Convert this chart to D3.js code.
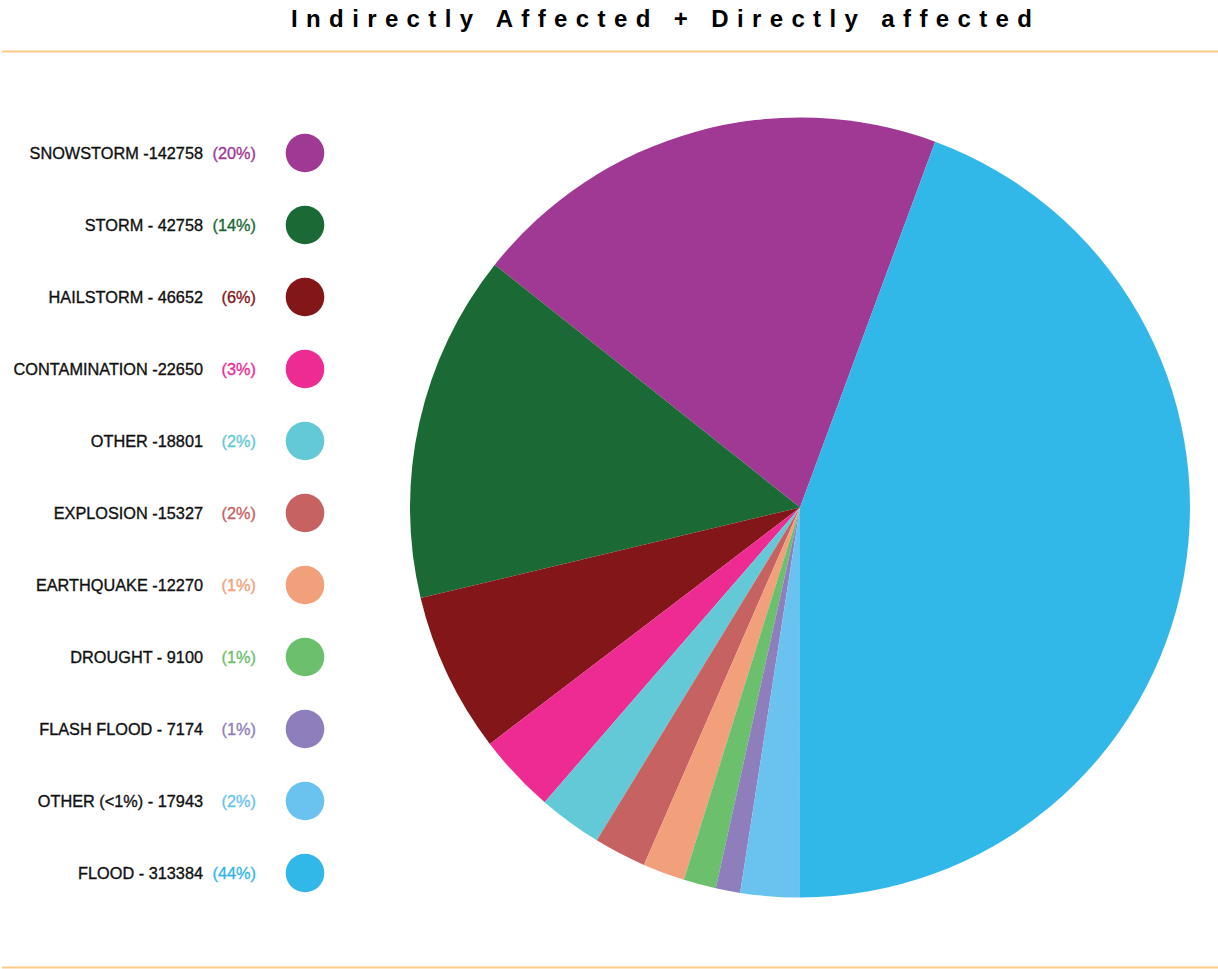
<!DOCTYPE html>
<html>
<head>
<meta charset="utf-8">
<script src="https://cdn.jsdelivr.net/npm/d3@7"></script>
<style>
  html, body { margin: 0; padding: 0; background: #fff; }
  svg { display: block; }
</style>
</head>
<body>
<svg id="chart" width="1218" height="969"></svg>
<script>
// Disaster categories, in legend order (counter-clockwise around the pie)
const categories = ["SNOWSTORM", "STORM", "HAILSTORM", "CONTAMINATION", "OTHER",
  "EXPLOSION", "EARTHQUAKE", "DROUGHT", "FLASH FLOOD", "OTHER (<1%)", "FLOOD"];
// Number text as printed beside each category
const countLabels = ["-142758", "- 42758", "- 46652", "-22650", "-18801",
  "-15327", "-12270", "- 9100", "- 7174", "- 17943", "- 313384"];
// Percentage text as printed
const pctLabels = ["(20%)", "(14%)", "(6%)", "(3%)", "(2%)", "(2%)", "(1%)", "(1%)", "(1%)", "(2%)", "(44%)"];
// Share of people affected (percent) for each slice
const shares = [19.94, 14.42, 6.64, 3.27, 2.64, 2.17, 1.74, 1.35, 1.01, 2.45, 44.37];
const colors = ["#A03993", "#1B6A35", "#831619", "#EE2A93", "#64C9D7",
  "#C66262", "#F2A07C", "#6BBF6D", "#8E7FBC", "#6AC3EE", "#32B7E9"];

const svg = d3.select("#chart");
const font = "'Liberation Sans', Arial, Helvetica, sans-serif";

// Title
svg.append("text")
  .attr("x", 291).attr("y", 27)
  .attr("textLength", 741).attr("lengthAdjust", "spacing")
  .style("font-family", font)
  .style("font-weight", "bold")
  .style("font-size", "24px")
  .attr("fill", "#000")
  .text("Indirectly Affected + Directly affected");

// Top and bottom rules
[51.5, 967.5].forEach(y => {
  svg.append("line")
    .attr("x1", 2).attr("x2", 1218)
    .attr("y1", y).attr("y2", y)
    .attr("stroke", "#FDCB87").attr("stroke-width", 2);
});

// Pie
const data = categories.map((c, i) => ({ name: c, value: shares[i], color: colors[i] }));
const startDeg = 20.28;
const pie = d3.pie()
  .sort(null)
  .value(d => d.value)
  .startAngle(startDeg * Math.PI / 180)
  .endAngle((startDeg - 360) * Math.PI / 180);
const arc = d3.arc().innerRadius(0).outerRadius(390);

svg.append("g")
  .attr("transform", "translate(800,507.5)")
  .selectAll("path")
  .data(pie(data))
  .join("path")
  .attr("d", arc)
  .attr("fill", d => d.data.color);

// Legend
const y = d3.scalePoint().domain(categories).range([153, 873]);
const legend = svg.append("g");
const rows = legend.selectAll("g")
  .data(data)
  .join("g")
  .attr("transform", d => `translate(0,${y(d.name)})`);

rows.append("text")
  .attr("x", 203).attr("y", 0).attr("dy", "0.36em")
  .attr("text-anchor", "end")
  .style("font-family", font).style("font-size", "16.3px")
  .attr("fill", "#111").attr("stroke", "#111").attr("stroke-width", 0.35)
  .text((d, i) => categories[i] + " " + countLabels[i]);

rows.append("text")
  .attr("x", 256).attr("y", 0).attr("dy", "0.36em")
  .attr("text-anchor", "end")
  .style("font-family", font).style("font-size", "16.3px")
  .attr("fill", d => d.color).attr("stroke", d => d.color).attr("stroke-width", 0.35)
  .text((d, i) => pctLabels[i]);

rows.append("circle")
  .attr("cx", 305).attr("cy", 0).attr("r", 19.3)
  .attr("fill", d => d.color);
</script>
</body>
</html>
